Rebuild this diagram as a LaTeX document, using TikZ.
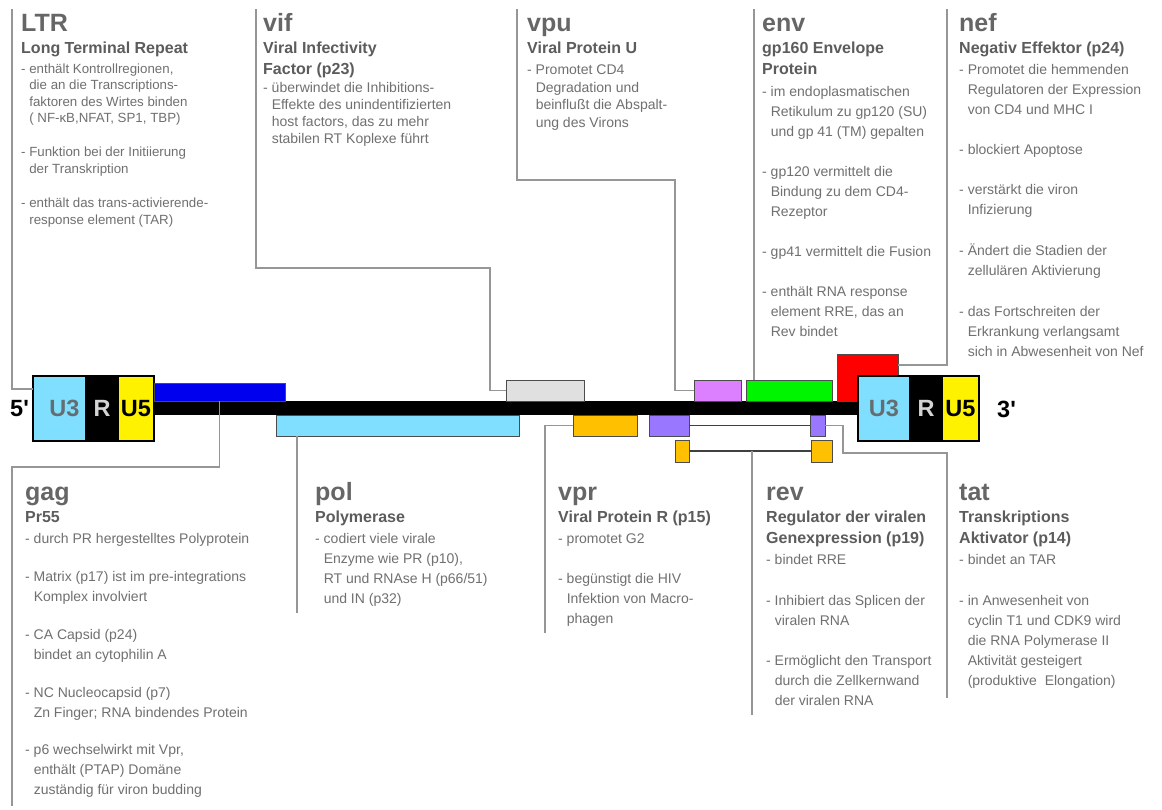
\documentclass[tikz,border=0pt]{standalone}
\usepackage{fontspec}
\setmainfont{Liberation Sans}
\newfontfamily\rawfont{Liberation Sans}
\definecolor{ttlc}{RGB}{102,102,102}
\definecolor{subc}{RGB}{92,92,92}
\definecolor{bodyc}{RGB}{112,112,112}
\definecolor{leadc}{RGB}{150,150,150}
\definecolor{ublue}{RGB}{128,222,255}
\definecolor{uthree}{RGB}{99,110,114}
\definecolor{rtext}{RGB}{212,212,212}
\definecolor{gagblue}{RGB}{0,0,238}
\definecolor{vifgray}{RGB}{224,224,224}
\definecolor{orng}{RGB}{255,192,0}
\definecolor{purp}{RGB}{153,120,255}
\definecolor{pink}{RGB}{221,128,255}
\definecolor{grn}{RGB}{0,245,0}
\definecolor{rd}{RGB}{255,0,0}
\newcommand\myind{\hphantom{- }}
\newcommand\fla{\rule{0pt}{12pt}}
\newcommand\flb{\rule{0pt}{13pt}}
\begin{document}
\begin{tikzpicture}[x=1pt,y=-1pt,
  gene/.style={draw=black!70, line width=0.7pt, inner sep=0, outer sep=0, anchor=north west},
  ltrcell/.style={draw=black, line width=1.1pt, inner sep=0, outer sep=0, anchor=north west,
     minimum height=65pt, font=\fontsize{23.5}{26}\selectfont\bfseries},
  leader/.style={draw=leadc, line width=1.3pt},
  splice/.style={draw=black!75, line width=1.1pt},
  ttl/.style={anchor=base west, inner sep=0, font=\fontsize{25}{30}\selectfont\bfseries, text=ttlc},
  sub/.style={anchor=north west, inner sep=0, align=left, font=\fontsize{16}{20.5}\selectfont\bfseries, text=subc},
  body/.style={anchor=north west, inner sep=0, align=left, font=\fontsize{14}{20}\selectfont, text=bodyc},
  endlbl/.style={anchor=base west, inner sep=0, font=\rawfont\fontsize{23.5}{26}\selectfont\bfseries, text=black}
]
\useasboundingbox[fill=white] (0,0) rectangle (1162,809);

% ---- genome band ----
\fill[black] (150,401) rectangle (862,415);
\node[gene, fill=rd, minimum width=61pt, minimum height=47pt] (nef) at (837,354) {};

% left LTR
\node[ltrcell, fill=ublue, minimum width=53pt, text=uthree] (u3L) at (33,376) {\hspace*{10pt}U3};
\node[ltrcell, fill=black, minimum width=32pt, text=rtext] (rL) at (86,376) {R};
\node[ltrcell, fill=yellow, minimum width=36pt, text=black] (u5L) at (118,376) {U5};
% right LTR
\node[ltrcell, fill=ublue, minimum width=52pt, text=uthree] (u3R) at (858,376) {U3};
\node[ltrcell, fill=black, minimum width=32pt, text=rtext] (rR) at (910,376) {R};
\node[ltrcell, fill=yellow, minimum width=37pt, text=black] (u5R) at (942,376) {U5};
\node[endlbl] (five) at (10,416) {5'};
\node[endlbl] (three) at (997,417) {3'};

% genes
\node[gene, fill=gagblue, minimum width=131pt, minimum height=18pt] (gag) at (154,383) {};
\node[gene, fill=ublue, minimum width=243pt, minimum height=21pt] (pol) at (276,415) {};
\node[gene, fill=vifgray, minimum width=78pt, minimum height=21pt] (vif) at (506,380) {};
\node[gene, fill=orng, minimum width=64pt, minimum height=21pt] (vpr) at (573,415) {};
\node[gene, fill=purp, minimum width=40pt, minimum height=21pt] (tat1) at (649,415) {};
\node[gene, fill=orng, minimum width=14pt, minimum height=22pt] (rev1) at (675,440) {};
\node[gene, fill=pink, minimum width=47pt, minimum height=21pt] (vpu) at (694,380) {};
\node[gene, fill=grn, minimum width=86pt, minimum height=21pt] (env) at (746,380) {};
\node[gene, fill=purp, minimum width=15pt, minimum height=21pt] (tat2) at (810,415) {};
\node[gene, fill=orng, minimum width=21pt, minimum height=22pt] (rev2) at (811,440) {};

% splice lines
\draw[splice] (tat1.east) -- (tat2.west);
\draw[splice] (rev1.east) -- (rev2.west);

% ---- leader coordinates ----
\coordinate (ltrEnd) at (12,9);
\coordinate (vifEnd) at (256,9);
\coordinate (vifBend) at (490,268);
\coordinate (vpuEnd) at (517,9);
\coordinate (vpuBend) at (675,180);
\coordinate (envEnd) at (754,9);
\coordinate (nefEnd) at (947,9);
\coordinate (gagBend) at (12,467);
\coordinate (gagEnd) at (12,806);
\coordinate (polEnd) at (297,613);
\coordinate (vprEnd) at (545,633);
\coordinate (revEnd) at (752,715);
\coordinate (tatBend) at (843,453);
\coordinate (tatEnd) at (947,698);

\draw[leader] (ltrEnd) |- ([yshift=19.5pt]u3L.west);
\draw[leader] (vifEnd) |- (vifBend) |- (vif.west);
\draw[leader] (vpuEnd) |- (vpuBend) |- (vpu.west);
\draw[leader] (envEnd) -- (envEnd |- env.north);
\draw[leader] (nefEnd) |- ([yshift=12.5pt]nef.east);
\draw[leader] (gag.south) |- (gagBend) -- (gagEnd);
\draw[leader] (polEnd |- pol.south) -- (polEnd);
\draw[leader] (vpr.west) -| (vprEnd);
\draw[leader] (revEnd |- rev1.east) -- (revEnd);
\draw[leader] (tat2.east) -| (tatBend) -| (tatEnd);

% ---- top texts ----
\node[ttl] (tLTR) at (21,31) {LTR};
\node[sub] (sLTR) at (21,40.5) {\flb Long Terminal Repeat};
\node[body, font=\fontsize{13.3}{16.4}\selectfont] (bLTR) at (21,61) {\fla - enthält Kontrollregionen,\\
\myind die an die Transcriptions-\\
\myind faktoren des Wirtes binden\\
\myind ( NF-κB,NFAT, SP1, TBP)\\[18pt]
- Funktion bei der Initiierung\\
\myind der Transkription\\[18pt]
- enthält das trans-activierende-\\
\myind response element (TAR)};

\node[ttl] (tvif) at (263,31) {vif};
\node[sub] (svif) at (263,40.5) {\flb Viral Infectivity\\Factor (p23)};
\node[body, font=\fontsize{14}{17}\selectfont] (bvif) at (263,80) {\fla - überwindet die Inhibitions-\\
\myind Effekte des unindentifizierten\\
\myind host factors, das zu mehr\\
\myind stabilen RT Koplexe führt};

\node[ttl] (tvpu) at (527,31) {vpu};
\node[sub] (svpu) at (527,40.5) {\flb Viral Protein U};
\node[body, font=\fontsize{14}{17.8}\selectfont] (bvpu) at (527,62) {\fla - Promotet CD4\\
\myind Degradation und\\
\myind beinflußt die Abspalt-\\
\myind ung des Virons};

\node[ttl] (tenv) at (762,31) {env};
\node[sub] (senv) at (762,40.5) {\flb gp160 Envelope\\Protein};
\node[body] (benv) at (762,84) {\fla - im endoplasmatischen\\
\myind Retikulum zu gp120 (SU)\\
\myind und gp 41 (TM) gepalten\\[20pt]
- gp120 vermittelt die\\
\myind Bindung zu dem CD4-\\
\myind Rezeptor\\[20pt]
- gp41 vermittelt die Fusion\\[20pt]
- enthält RNA response\\
\myind element RRE, das an\\
\myind Rev bindet};

\node[ttl] (tnef) at (959,31) {nef};
\node[sub] (snef) at (959,40.5) {\flb Negativ Effektor (p24)};
\node[body] (bnef) at (959,62) {\fla - Promotet die hemmenden\\
\myind Regulatoren der Expression\\
\myind von CD4 und MHC I\\[20pt]
- blockiert Apoptose\\[20pt]
- verstärkt die viron\\
\myind Infizierung\\[21pt]
- Ändert die Stadien der\\
\myind zellulären Aktivierung\\[21pt]
- das Fortschreiten der\\
\myind Erkrankung verlangsamt\\
\myind sich in Abwesenheit von Nef};

% ---- bottom texts ----
\node[ttl] (tgag) at (25,500) {gag};
\node[sub] (sgag) at (25,509.5) {\flb Pr55};
\node[body] (bgag) at (25,531) {\fla - durch PR hergestelltes Polyprotein\\[18pt]
- Matrix (p17) ist im pre-integrations\\
\myind Komplex involviert\\[18pt]
- CA Capsid (p24)\\
\myind bindet an cytophilin A\\[18pt]
- NC Nucleocapsid (p7)\\
\myind Zn Finger; RNA bindendes Protein\\[17pt]
- p6 wechselwirkt mit Vpr,\\
\myind enthält (PTAP) Domäne\\
\myind zuständig für viron budding};

\node[ttl] (tpol) at (315,500) {pol};
\node[sub] (spol) at (315,509.5) {\flb Polymerase};
\node[body] (bpol) at (315,531) {\fla - codiert viele virale\\
\myind Enzyme wie PR (p10),\\
\myind RT und RNAse H (p66/51)\\
\myind und IN (p32)};

\node[ttl] (tvpr) at (558,500) {vpr};
\node[sub] (svpr) at (558,509.5) {\flb Viral Protein R (p15)};
\node[body] (bvpr) at (558,531) {\fla - promotet G2\\[20pt]
- begünstigt die HIV\\
\myind Infektion von Macro-\\
\myind phagen};

\node[ttl] (trev) at (766,500) {rev};
\node[sub] (srev) at (766,509.5) {\flb Regulator der viralen\\Genexpression (p19)};
\node[body] (brev) at (766,552) {\fla - bindet RRE\\[21pt]
- Inhibiert das Splicen der\\
\myind viralen RNA\\[20pt]
- Ermöglicht den Transport\\
\myind durch die Zellkernwand\\
\myind der viralen RNA};

\node[ttl] (ttat) at (959,500) {tat};
\node[sub] (stat) at (959,509.5) {\flb Transkriptions\\Aktivator (p14)};
\node[body] (btat) at (959,552) {\fla - bindet an TAR\\[21pt]
- in Anwesenheit von\\
\myind cyclin T1 und CDK9 wird\\
\myind die RNA Polymerase II\\
\myind Aktivität gesteigert\\
\myind (produktive\ \ Elongation)};
\end{tikzpicture}
\end{document}
